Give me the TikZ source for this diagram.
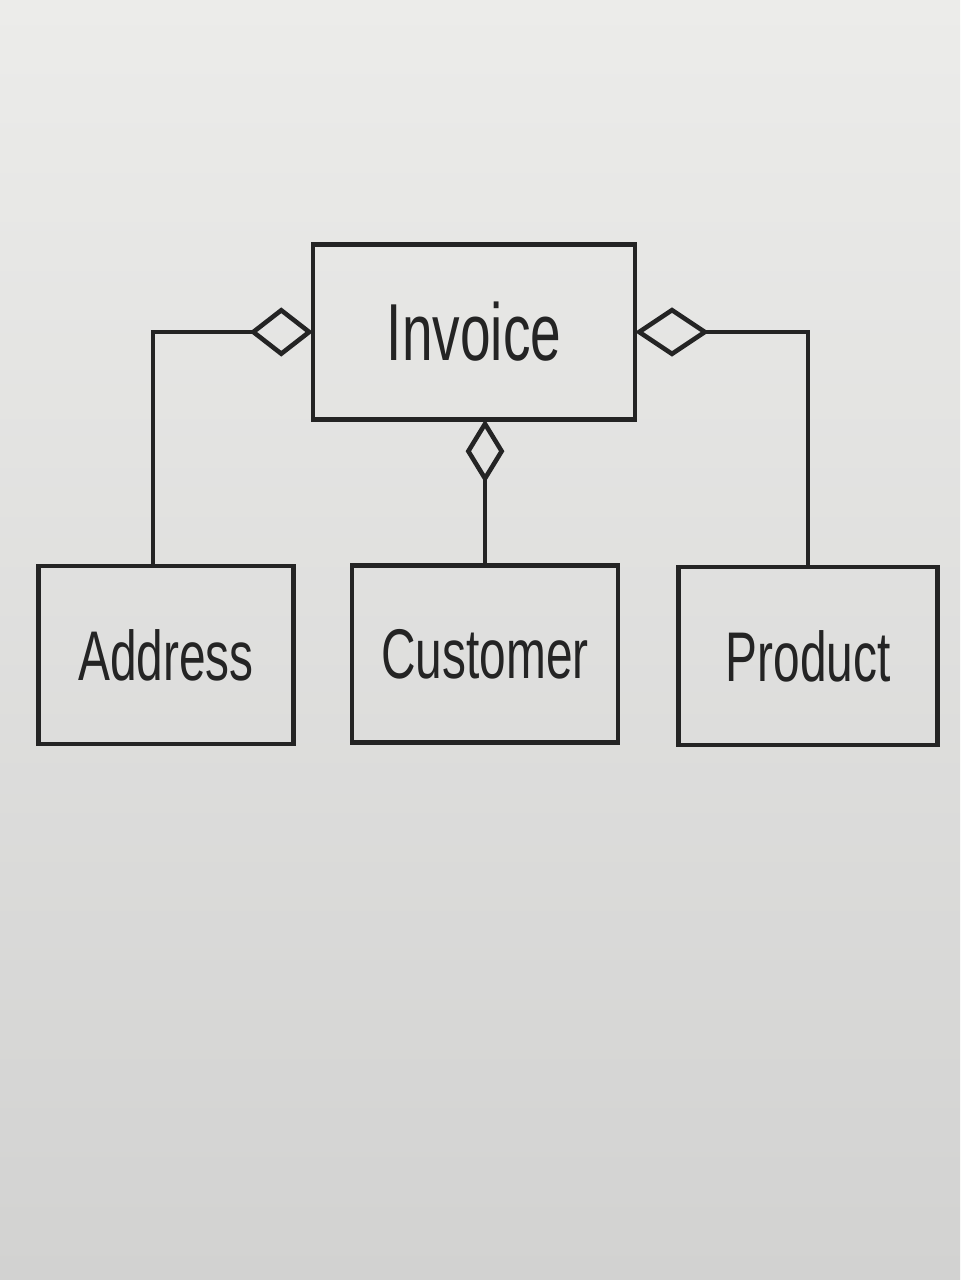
\documentclass[tikz,border=0pt]{standalone}
\usepackage{fontspec}
\newfontfamily\handfont[FakeStretch=0.68]{Liberation Sans}
\usetikzlibrary{arrows.meta, positioning}
\definecolor{paperTop}{RGB}{236,236,234}
\definecolor{paperBot}{RGB}{210,210,209}
\definecolor{ink}{RGB}{36,36,36}

\begin{document}
\begin{tikzpicture}[
    x=0.01cm, y=-0.01cm,
    cls/.style={draw=ink, line width=1.3pt, rectangle, minimum width=2.6cm,
      minimum height=1.78cm, inner sep=0pt, outer sep=0pt, text=ink,
      font=\handfont\fontsize{20}{24}\selectfont},
    agg/.style={draw=ink, line width=1.3pt, line join=miter,
      -{Diamond[open, length=#1, width=14pt, line width=1.3pt]}},
    agg/.default=18pt
]
% paper
\fill[top color=paperTop, bottom color=paperBot] (0,0) rectangle (960,1280);
\useasboundingbox (0,0) rectangle (960,1280);

\node[cls, minimum width=3.22cm, minimum height=1.75cm,
  font=\handfont\fontsize{23}{28}\selectfont] (invoice) at (474,332) {Invoice};
\node[cls, minimum width=2.55cm] (address) at (166,655) {Address};
\node[cls, minimum width=2.66cm, minimum height=1.77cm] (customer) at (485,654) {Customer};
\node[cls, minimum width=2.59cm] (product) at (808,656) {Product};

% aggregations
\draw[agg] ([xshift=-0.13cm]address.north) |- (invoice.west);
\draw[draw=ink, line width=1.3pt,
  -{Diamond[open, length=18pt, width=11pt, line width=1.3pt]}]
  (customer.north) -- (customer.north |- invoice.south);
\draw[agg=21pt] (product.north) |- (invoice.east);
\end{tikzpicture}
\end{document}
